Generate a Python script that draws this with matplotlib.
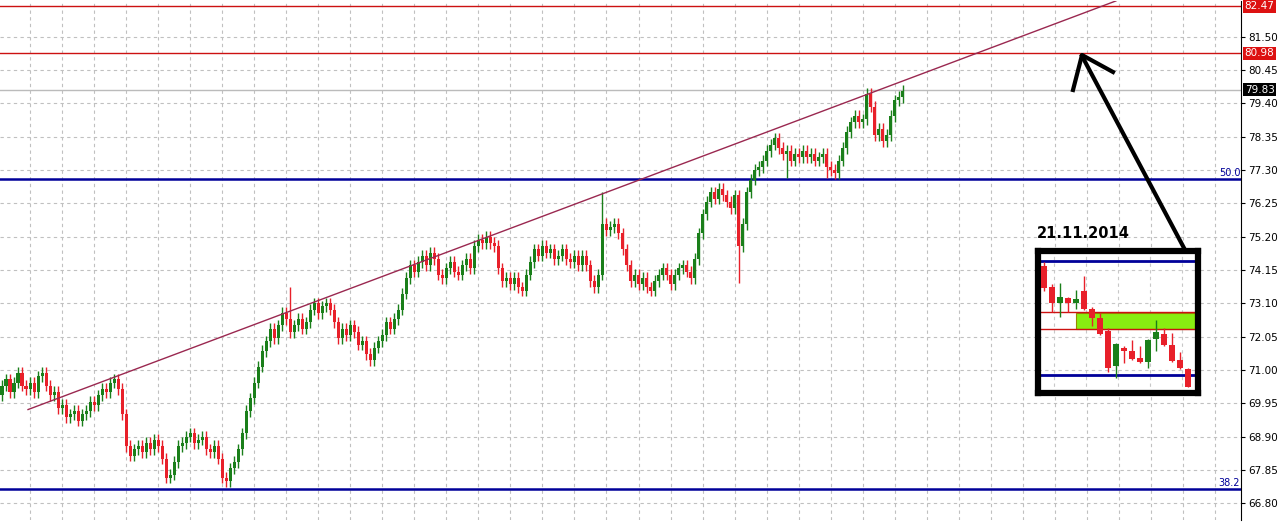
import matplotlib
matplotlib.use("Agg")
import matplotlib.pyplot as plt
from matplotlib.patches import Rectangle
import numpy as np

W, H = 1282, 525
closes = [70.5,70.7,70.3,70.6,70.9,70.5,70.4,70.6,70.3,70.8,
          70.9,70.5,70.2,70.3,69.8,69.9,69.5,69.6,69.7,69.4,
          69.6,69.7,70.0,69.9,70.2,70.4,70.3,70.6,70.7,70.4,
          69.6,68.6,68.3,68.5,68.6,68.4,68.7,68.5,68.8,68.6,
          68.2,67.6,67.7,68.1,68.6,68.7,68.9,69.0,68.7,68.8,
          68.9,68.5,68.4,68.6,68.2,67.6,67.5,67.9,68.1,68.5,
          69.0,69.7,70.1,70.6,71.1,71.6,71.9,72.3,72.0,72.4,
          72.8,72.6,72.2,72.4,72.6,72.3,72.5,72.9,73.1,72.8,
          73.0,73.1,72.9,72.5,72.0,72.3,72.1,72.4,72.2,71.8,
          71.9,71.5,71.3,71.7,71.9,72.1,72.5,72.3,72.6,72.9,
          73.4,73.9,74.3,74.1,74.4,74.6,74.3,74.7,74.5,74.0,
          73.9,74.2,74.4,74.1,74.0,74.3,74.5,74.2,74.9,75.1,
          75.0,75.2,75.0,74.9,74.2,73.8,73.9,73.7,73.9,73.6,
          73.5,74.0,74.4,74.8,74.6,74.9,74.7,74.8,74.5,74.6,
          74.8,74.5,74.4,74.6,74.3,74.6,74.3,73.8,73.6,74.0,
          75.6,75.4,75.5,75.6,75.3,74.8,74.3,73.8,74.0,73.7,
          73.9,73.6,73.5,73.8,74.0,74.2,74.0,73.7,74.0,74.2,
          74.3,74.1,73.9,74.5,75.3,75.9,76.3,76.6,76.4,76.7,
          76.5,76.3,76.1,76.5,74.9,75.6,76.6,77.0,77.3,77.4,
          77.6,77.9,78.1,78.3,78.0,77.8,77.9,77.6,77.8,77.7,
          77.9,77.7,77.8,77.6,77.7,77.8,77.4,77.3,77.2,77.6,
          78.0,78.5,78.8,79.0,78.8,78.9,79.7,79.3,78.4,78.6,
          78.2,78.4,79.0,79.5,79.6,79.8]
first_open = 70.2
wick_overrides = {72: (73.6, None), 150: (76.6, None), 184: (None, 73.75), 196: (None, 77.05), 206: (None, 77.05), 226: (79.9, None)}

# inset candles (relative units)
ins_o = [1.38,2.00,2.48,2.33,2.50,2.13,2.68,2.93,3.33,4.37,3.83,3.92,4.13,4.25,3.58,3.42,3.75,4.20,4.47]
ins_c = [2.05,2.50,2.32,2.48,2.38,2.68,2.95,3.42,4.45,3.72,3.92,4.17,4.25,3.60,3.36,3.75,4.22,4.43,5.00]
ins_h = [1.25,1.92,1.88,2.30,2.10,1.68,2.62,2.80,3.25,3.68,3.78,3.60,3.78,3.58,3.00,3.25,3.40,3.97,4.44]
ins_l = [2.12,2.75,2.90,2.75,2.68,2.70,3.18,3.45,4.55,4.75,4.30,4.20,4.28,4.43,3.92,3.78,4.25,4.48,5.00]

ticks = [81.50-1.05*k for k in range(15)]

fig = plt.figure(figsize=(W/100, H/100), dpi=100)
fig.patch.set_facecolor("white")
ax = fig.add_axes([0, 5/H, 1241/W, 1-6/H])
ax.set_xlim(-0.5, 309.5)
ax.set_ylim(81.5-486*0.03134, 81.5+36*0.03134)
GREEN, RED = "#1a7f1a", "#e8202a"

opens = [first_open] + closes[:-1]
for i, (o, c) in enumerate(zip(opens, closes)):
    hi, lo = max(o, c)+0.18, min(o, c)-0.18
    if i in wick_overrides:
        h2, l2 = wick_overrides[i]
        hi = h2 if h2 else hi
        lo = l2 if l2 else lo
    col = GREEN if c >= o else RED
    ax.vlines(i, lo, hi, color=col, lw=1, zorder=3)
    ax.add_patch(Rectangle((i-0.38, min(o, c)), 0.76, max(abs(c-o), 0.04), color=col, lw=0, zorder=4))

for t in ticks:
    ax.axhline(t, color="#c0c0c0", ls=(0, (3, 3)), lw=0.8, zorder=1)
for gx in np.arange(7, 310, 8):
    ax.axvline(gx, color="#c0c0c0", ls=(0, (3, 3)), lw=0.8, zorder=1)

ax.axhline(82.47, color="#cc1111", lw=1, zorder=2)
ax.axhline(80.98, color="#cc1111", lw=1, zorder=2)
ax.axhline(79.83, color="#bbbbbb", lw=1, zorder=2)
ax.axhline(77.02, color="#000099", lw=1.8, zorder=2)
ax.axhline(67.24, color="#000099", lw=1.8, zorder=2)
ax.plot([6.5, 278.25], [69.75, 82.63], color="#9a2850", lw=1, zorder=5)
ax.text(309.3, 77.06, "50.0", color="#000099", ha="right", va="bottom", fontsize=7)
ax.text(309.3, 67.28, "38.2", color="#000099", ha="right", va="bottom", fontsize=7)

ax.yaxis.tick_right()
ax.set_yticks(ticks)
ax.set_yticklabels([f"{t:.2f}" for t in ticks], fontsize=7.5)
ax.tick_params(axis="y", length=3, pad=2)
ax.set_xticks([])
for s in ["top", "left", "bottom"]:
    ax.spines[s].set_visible(False)
for val, bg in [(82.47, "#dd1111"), (80.98, "#dd1111"), (79.83, "black")]:
    ax.text(1.003, val, f"{val:.2f}", transform=ax.get_yaxis_transform(), fontsize=7.5,
            color="white", va="center", ha="left",
            bbox=dict(boxstyle="square,pad=0.15", fc=bg, ec="none"), zorder=10)

# inset
ia = fig.add_axes([1038/W, 1-393/H, 160/W, 142/H])
ia.set_xlim(-0.75, 19.25)
ia.set_ylim(5.19, 0.93)
for i in range(len(ins_o)):
    o, c = ins_o[i], ins_c[i]
    col = GREEN if c < o else RED
    ia.vlines(i, ins_h[i], ins_l[i], color=col, lw=1, zorder=3)
    ia.add_patch(Rectangle((i-0.35, min(o, c)), 0.7, abs(c-o), color=col, lw=0, zorder=4))
for gy in [1.5, 2.5, 3.5, 4.5]:
    ia.axhline(gy, color="#c8c8c8", ls=(0, (3, 3)), lw=0.8, zorder=1)
for gx in [1.25, 5.25, 9.25, 13.25, 17.25]:
    ia.axvline(gx, color="#c8c8c8", ls=(0, (3, 3)), lw=0.8, zorder=1)
ia.add_patch(Rectangle((3.95, 2.78), 15.0, 0.49, fc="#88ee11", ec="#998800", lw=0.8, zorder=2))
ia.axhline(2.77, color="#cc1111", lw=1, zorder=2)
ia.axhline(3.27, color="#cc1111", lw=1, zorder=2)
ia.axhline(1.22, color="#000099", lw=2, zorder=2)
ia.axhline(4.64, color="#000099", lw=2, zorder=2)
ia.set_xticks([]); ia.set_yticks([])
for s in ia.spines.values():
    s.set_linewidth(4.5); s.set_color("black")

fig.text(1037/W, 1-233/H, "21.11.2014", fontsize=10.5, fontweight="bold", va="center", ha="left")

def P(x, y):
    return (x/W, 1-y/H)
fig.add_artist(plt.Line2D(*zip(P(1184, 248), P(1082, 56)), color="black", lw=3, transform=fig.transFigure))
fig.add_artist(plt.Line2D(*zip(P(1073, 90), P(1082, 55), P(1113, 72)), color="black", lw=3, transform=fig.transFigure))

fig.savefig("out.png", dpi=100)
